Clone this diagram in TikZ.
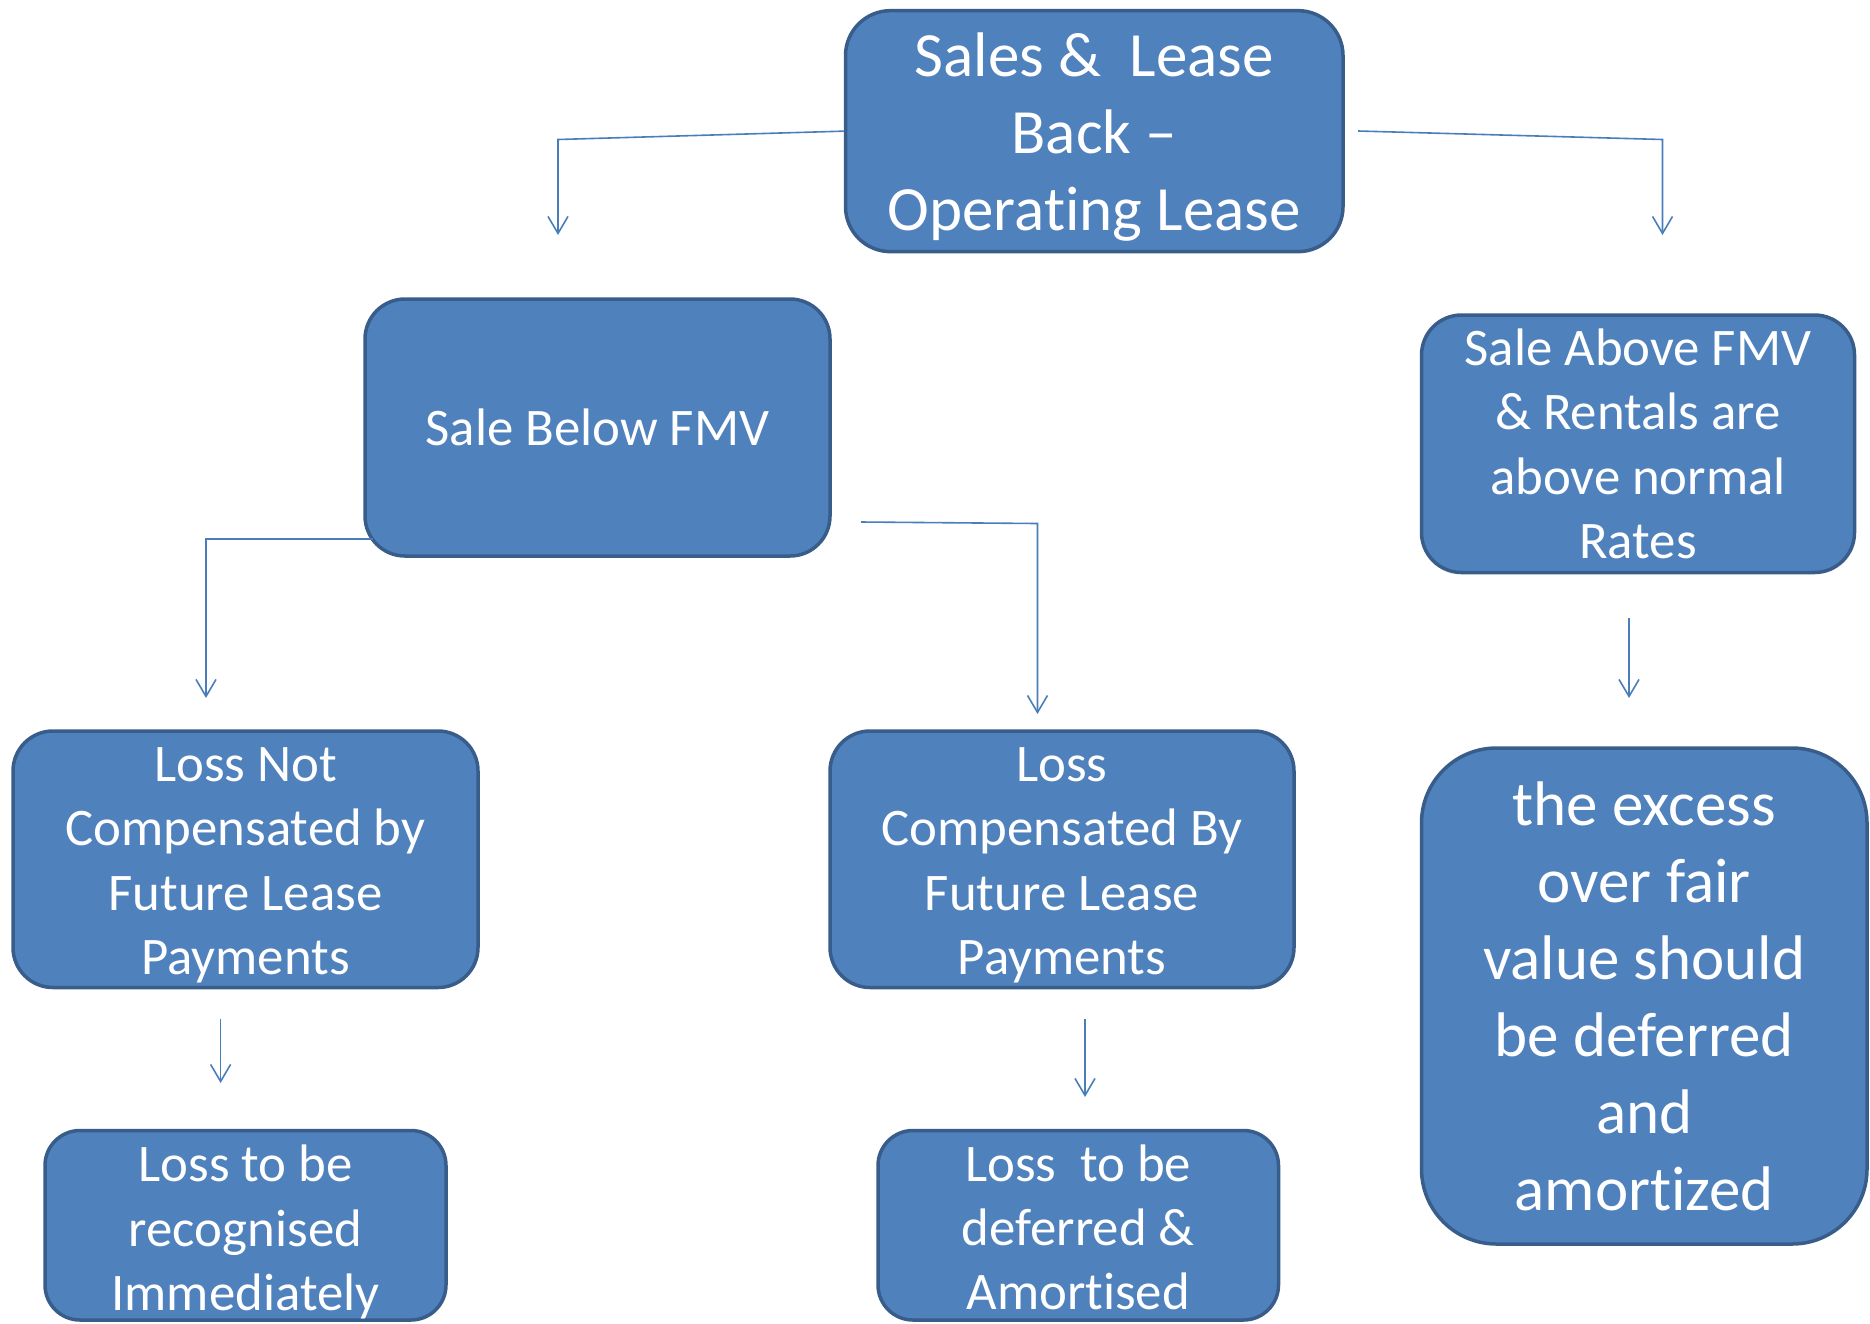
\documentclass[tikz,border=0pt]{standalone}
\usepackage{fontspec}
\setmainfont[Ligatures=NoCommon]{Carlito}
\usetikzlibrary{arrows.meta}
\definecolor{boxfill}{HTML}{4F81BD}
\definecolor{boxline}{HTML}{385D8A}
\definecolor{linkcol}{HTML}{4A7EBB}
\begin{document}
\begin{tikzpicture}[x=1pt,y=-1pt,
  box/.style={draw=boxline, fill=boxfill, line width=3.5pt, inner sep=0pt, rounded corners=#1},
  box/.default=40pt,
  txt/.style={text=white, align=center, inner sep=0pt},
  big/.style={font=\fontsize{63}{77}\selectfont},
  mid/.style={font=\fontsize{52.8}{64.4}\selectfont},
  link/.style={draw=linkcol, line width=1.6pt, -{Straight Barb[length=17pt,width=20pt,line width=1.6pt]}}
]
\path[use as bounding box] (0,0) rectangle (1870,1323);

\node[box=45pt, minimum width=497.5pt, minimum height=241pt] (top) at (1094.25,131.15) {};
\node[txt, big] (topt) at ([yshift=-6pt]top.center) {Sales \& ~Lease\\Back --\\Operating Lease};

\node[box, minimum width=465pt, minimum height=257pt] (below) at (597.5,427.5) {};
\node[txt, mid] (belowt) at (below.center) {Sale Below FMV};

\node[box, minimum width=433pt, minimum height=257.5pt] (above) at (1638,443.75) {};
\node[txt, mid] (abovet) at (above.center) {Sale Above FMV\\\& Rentals are\\above normal\\Rates};

\node[box=75pt, minimum width=445.5pt, minimum height=496pt] (excess) at (1644.25,996) {};
\node[txt, big] (excesst) at (excess.center) {the excess\\over fair\\value should\\be deferred\\and\\amortized};

\node[box, minimum width=465pt, minimum height=256.5pt] (notcomp) at (245.5,859.25) {};
\node[txt, mid] (notcompt) at ([yshift=-6pt]notcomp.center) {Loss Not\\Compensated by\\Future Lease\\Payments};

\node[box, minimum width=464pt, minimum height=256.5pt] (comp) at (1062,859.25) {};
\node[txt, mid] (compt) at ([yshift=-6pt]comp.center) {Loss\\Compensated By\\Future Lease\\Payments};

\node[box=35pt, minimum width=401pt, minimum height=189.5pt] (recog) at (245.5,1225.25) {};
\node[txt, mid] (recogt) at ([yshift=-7pt]recog.center) {Loss to be\\recognised\\Immediately};

\node[box=35pt, minimum width=400.5pt, minimum height=189.5pt] (defer) at (1078.25,1225.25) {};
\node[txt, mid] (defert) at ([yshift=-2pt]defer.center) {Loss ~to be\\deferred \&\\Amortised};

\coordinate (t1) at (558,139.5);
\coordinate (t1e) at (558,235);
\draw[link] (top.west) -- (t1) -- (t1e);

\coordinate (t2s) at (1358,131);
\coordinate (t2) at (1662.5,139.5);
\coordinate (t2e) at (1662.5,235);
\draw[link] (t2s) -- (t2) -- (t2e);

\coordinate (b1s) at (373,539);
\coordinate (b1) at (206,539);
\coordinate (b1e) at (206,698);
\draw[link] (b1s) -- (b1) -- (b1e);

\coordinate (b2s) at (861,522);
\coordinate (b2) at (1037.5,523.5);
\coordinate (b2e) at (1037.5,714);
\draw[link] (b2s) -- (b2) -- (b2e);

\coordinate (a1s) at (1629,618);
\coordinate (a1e) at (1629,698);
\draw[link] (a1s) -- (a1e);

\coordinate (n1s) at (220.6,1018.5);
\coordinate (n1e) at (220.6,1083);
\draw[link] (n1s) -- (n1e);

\coordinate (c1s) at (1085,1018.5);
\coordinate (c1e) at (1085,1097);
\draw[link] (c1s) -- (c1e);
\end{tikzpicture}
\end{document}
